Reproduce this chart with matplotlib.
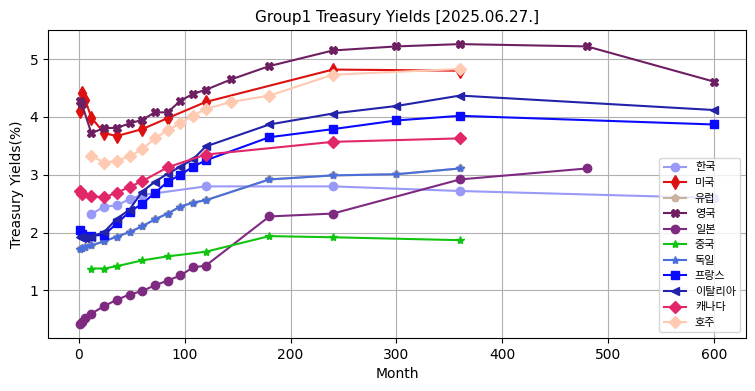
import matplotlib
matplotlib.use("Agg")
import matplotlib.pyplot as plt

plt.rcParams['font.family'] = ['DejaVu Sans', 'Noto Sans CJK KR']

title = "Group1 Treasury Yields [2025.06.27.]"

kr_m = [12, 24, 36, 48, 60, 120, 240, 360, 600]
kr_v = [2.32, 2.45, 2.47, 2.58, 2.65, 2.80, 2.80, 2.72, 2.60]

us_m = [1, 3, 6, 12, 24, 36, 60, 84, 120, 240, 360]
us_v = [4.10, 4.42, 4.30, 3.99, 3.72, 3.67, 3.79, 3.98, 4.26, 4.82, 4.80]

eu_m = [1, 3, 6, 12, 24, 36, 48, 60, 72, 84, 96, 108, 120, 180, 240, 300, 360]
eu_v = [1.72, 1.74, 1.76, 1.78, 1.85, 1.93, 2.01, 2.11, 2.23, 2.33, 2.45, 2.52, 2.56, 2.92, 2.99, 3.01, 3.11]

uk_m = [1, 3, 12, 24, 36, 48, 60, 72, 84, 96, 108, 120, 144, 180, 240, 300, 360, 480, 600]
uk_v = [4.28, 4.22, 3.72, 3.81, 3.81, 3.89, 3.95, 4.08, 4.08, 4.28, 4.40, 4.47, 4.65, 4.88, 5.15, 5.22, 5.26, 5.22, 4.61]

jp_m = [1, 3, 6, 12, 24, 36, 48, 60, 72, 84, 96, 108, 120, 180, 240, 360, 480]
jp_v = [0.42, 0.45, 0.52, 0.60, 0.73, 0.84, 0.93, 0.99, 1.09, 1.17, 1.26, 1.40, 1.43, 2.28, 2.33, 2.92, 3.11]

cn_m = [12, 24, 36, 60, 84, 120, 180, 240, 360]
cn_v = [1.38, 1.38, 1.42, 1.52, 1.59, 1.67, 1.94, 1.92, 1.87]

de_m = [1, 3, 6, 12, 24, 36, 48, 60, 72, 84, 96, 108, 120, 180, 240, 300, 360]
de_v = [1.72, 1.74, 1.76, 1.78, 1.85, 1.93, 2.01, 2.11, 2.23, 2.33, 2.45, 2.52, 2.56, 2.92, 2.99, 3.01, 3.11]

fr_m = [1, 3, 12, 24, 36, 48, 60, 72, 84, 96, 108, 120, 180, 240, 300, 360, 600]
fr_v = [2.04, 1.97, 1.95, 1.96, 2.16, 2.36, 2.50, 2.69, 2.88, 3.00, 3.14, 3.25, 3.65, 3.79, 3.94, 4.02, 3.87]

it_m = [1, 3, 6, 12, 24, 36, 48, 60, 72, 84, 96, 108, 120, 180, 240, 300, 360, 600]
it_v = [1.93, 1.90, 1.91, 1.93, 2.01, 2.24, 2.40, 2.71, 2.88, 3.02, 3.14, 3.27, 3.49, 3.87, 4.06, 4.19, 4.37, 4.12]

ca_m = [1, 3, 12, 24, 36, 48, 60, 84, 120, 240, 360]
ca_v = [2.72, 2.67, 2.63, 2.61, 2.69, 2.79, 2.89, 3.13, 3.35, 3.57, 3.63]

au_m = [12, 24, 36, 48, 60, 72, 84, 96, 108, 120, 144, 180, 240, 360]
au_v = [3.33, 3.21, 3.24, 3.32, 3.44, 3.63, 3.77, 3.89, 4.02, 4.14, 4.26, 4.37, 4.73, 4.83]

series = [
    ("한국", kr_m, kr_v, "#9999f7", "o", 6),
    ("미국", us_m, us_v, "#dd1111", "d", 7),
    ("유럽", eu_m, eu_v, "#c8b49c", "p", 6),
    ("영국", uk_m, uk_v, "#6e1f62", "X", 6),
    ("일본", jp_m, jp_v, "#7e2a80", "o", 6),
    ("중국", cn_m, cn_v, "#11c411", "*", 6),
    ("독일", de_m, de_v, "#4a6fdc", "*", 6),
    ("프랑스", fr_m, fr_v, "#0a0aff", "s", 6),
    ("이탈리아", it_m, it_v, "#2222aa", "<", 6),
    ("캐나다", ca_m, ca_v, "#e2266a", "D", 6),
    ("호주", au_m, au_v, "#ffc9b2", "D", 6),
]

fig = plt.figure(figsize=(7.55, 3.91), dpi=100)
ax = fig.add_axes([0.0636, 0.1355, 0.9244, 0.7875])

for name, m, v, c, mk, ms in series:
    ax.plot(m, v, color=c, marker=mk, markersize=ms, linewidth=1.5, label=name)

ax.grid(True)
ax.set_title(title, fontsize=11)
ax.set_xlabel("Month")
ax.set_ylabel("Treasury Yields(%)")
ax.legend(loc="lower right", fontsize=8)

fig.savefig("out.png", dpi=100)
